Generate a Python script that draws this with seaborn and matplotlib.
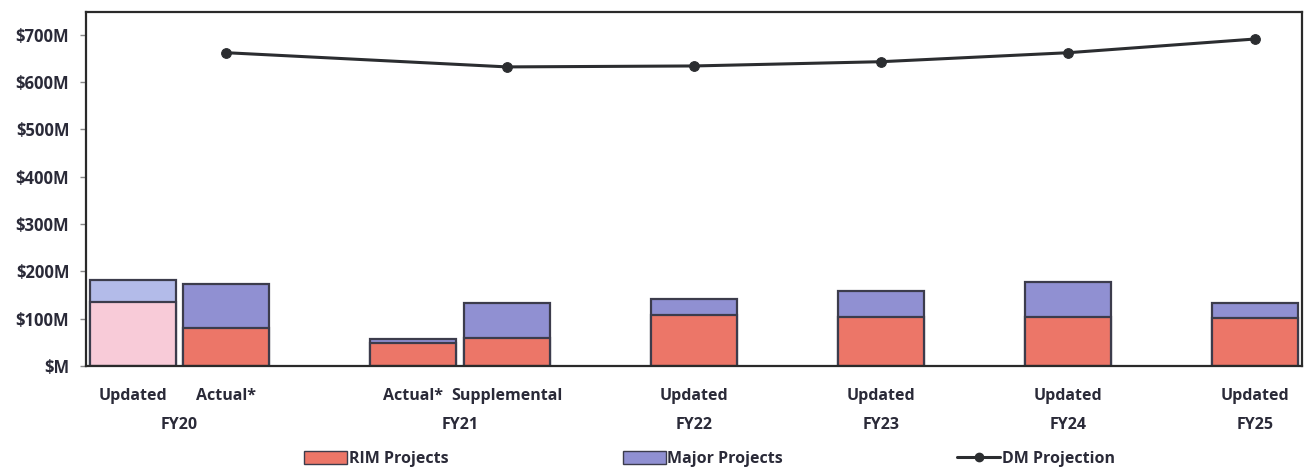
import matplotlib
matplotlib.use("Agg")
import matplotlib.pyplot as plt
import matplotlib.transforms as mtransforms
from matplotlib.patches import Patch
from matplotlib.lines import Line2D
import seaborn as sns
import pandas as pd

# ---- data ($M) ----
bar_labels = ["Updated", "Actual*", "Actual*", "Supplemental", "Updated", "Updated", "Updated", "Updated"]
bar_groups = ["FY20", "FY20", "FY21", "FY21", "FY22", "FY23", "FY24", "FY25"]
bar_slots = [0, 1, 3, 4, 6, 8, 10, 12]          # category slots (blank slots between years)
rim_projects = [135, 80, 48, 59, 107, 104, 104, 101]
major_projects = [47, 93, 9, 74, 34, 55, 74, 32]
bar_kind = ["pale", "solid", "solid", "solid", "solid", "solid", "solid", "solid"]
dm_slots = [1, 4, 6, 8, 10, 12]
dm_projection = [662, 632, 634, 643, 662, 691]
group_names = ["FY20", "FY21", "FY22", "FY23", "FY24", "FY25"]
y_ticks = [0, 100, 200, 300, 400, 500, 600, 700]
y_tick_labels = ["$M", "$100M", "$200M", "$300M", "$400M", "$500M", "$600M", "$700M"]

df = pd.DataFrame({
    "slot": bar_slots, "label": bar_labels, "group": bar_groups,
    "rim": rim_projects, "major": major_projects, "kind": bar_kind,
})
df["total"] = df["rim"] + df["major"]
dm = pd.DataFrame({"slot": dm_slots, "dm": dm_projection})

sns.set_theme(style="white")
plt.rcParams["font.family"] = ["Open Sans", "DejaVu Sans"]

TXT = "#2a2a38"
EDGE = "#3c3c4c"
RIM_C = "#ec7668"
MAJ_C = "#9090d2"
RIM_PALE = "#f8cbd8"
MAJ_PALE = "#b3bbe9"
FS = 11.5

fig = plt.figure(figsize=(13.09, 4.69), dpi=100)
ax = fig.add_axes([0.0657, 0.2196, 0.9290, 0.7548])

sns.barplot(data=df, x="slot", y="total", hue="kind", native_scale=True, dodge=False,
            palette={"pale": MAJ_PALE, "solid": MAJ_C}, width=0.92, legend=False,
            saturation=1, edgecolor=EDGE, linewidth=1.6, ax=ax, errorbar=None)
sns.barplot(data=df, x="slot", y="rim", hue="kind", native_scale=True, dodge=False,
            palette={"pale": RIM_PALE, "solid": RIM_C}, width=0.92, legend=False,
            saturation=1, edgecolor=EDGE, linewidth=1.6, ax=ax, errorbar=None)
sns.lineplot(data=dm, x="slot", y="dm", color="#2b2d30", linewidth=2.2, marker="o",
             markersize=7, markeredgecolor="#2b2d30", ax=ax)

ax.set_xlim(-0.5, 12.5)
ax.set_ylim(0, 748)
ax.set_yticks(y_ticks)
ax.set_yticklabels(y_tick_labels, fontsize=FS + 0.5, fontweight="bold", color=TXT)
ax.tick_params(axis="y", left=True, length=4, width=1, color="#888888", pad=8)
ax.set_xticks(bar_slots)
ax.set_xticklabels(bar_labels, fontsize=FS, fontweight="bold", color=TXT)
ax.tick_params(axis="x", bottom=False, pad=10)
ax.set_xlabel("")
ax.set_ylabel("")

for s in ax.spines.values():
    s.set_visible(True)
    s.set_color("#2a2a2a")
    s.set_linewidth(1.6)

# group labels under the tick labels
trans = mtransforms.blended_transform_factory(ax.transData, fig.transFigure)
for g in group_names:
    sl = df.loc[df["group"] == g, "slot"]
    ax.text(sl.mean(), 1 - 425 / 469, g, transform=trans, ha="center", va="center",
            fontsize=FS, fontweight="bold", color=TXT)

handles = [
    Patch(facecolor=RIM_C, edgecolor=EDGE, label="RIM Projects"),
    Patch(facecolor=MAJ_C, edgecolor=EDGE, label="Major Projects"),
    Line2D([0], [0], color="#2b2d30", lw=2.2, marker="o", markersize=6, label="DM Projection"),
]
leg = fig.legend(handles=handles, loc="center", bbox_to_anchor=(0.542, 1 - 459 / 469), ncol=3,
                 frameon=False, handlelength=2.7, handleheight=0.9,
                 handletextpad=0.1, columnspacing=10.9,
                 prop={"weight": "bold", "size": FS})
for t in leg.get_texts():
    t.set_color(TXT)

fig.savefig("out.png", dpi=100)
